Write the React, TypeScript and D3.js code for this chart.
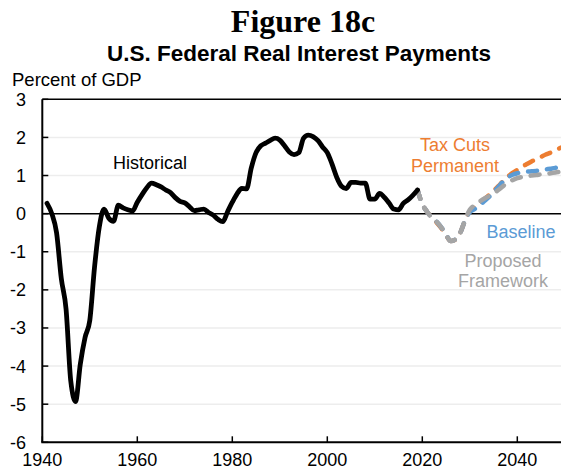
import React from "react";
import * as d3 from "d3";

const histYears: number[] = d3.range(1941, 2020);
const histValues: number[] = [
  0.27, 0.0, -0.5, -1.7, -2.5, -4.4, -4.93, -3.95, -3.25, -2.8,
  -1.4, -0.35, 0.12, -0.12, -0.2, 0.22, 0.15, 0.1, 0.07, 0.3,
  0.5, 0.68, 0.8, 0.76, 0.7, 0.62, 0.55, 0.42, 0.32, 0.28,
  0.18, 0.08, 0.1, 0.12, 0.03, -0.04, -0.15, -0.21, 0.05, 0.3,
  0.52, 0.66, 0.65, 1.2, 1.6, 1.78, 1.85, 1.92, 1.98, 1.93,
  1.78, 1.62, 1.55, 1.6, 1.98, 2.06, 2.02, 1.92, 1.75, 1.6,
  1.3, 0.95, 0.72, 0.66, 0.82, 0.82, 0.8, 0.8, 0.38, 0.38,
  0.53, 0.43, 0.28, 0.12, 0.1, 0.27, 0.36, 0.48, 0.62,
];

const projYears: number[] = d3.range(2019, 2051);
const taxCutsValues: number[] = [
  0.62, 0.25, 0.05, -0.1, -0.23, -0.38, -0.57, -0.72, -0.68, -0.5,
  -0.18, 0.06, 0.17, 0.27, 0.38, 0.48, 0.6, 0.72, 0.85, 0.97,
  1.07, 1.15, 1.23, 1.3, 1.37, 1.43, 1.49, 1.55, 1.6, 1.66,
  1.72, 1.78,
];
const baselineValues: number[] = [
  0.62, 0.25, 0.05, -0.1, -0.21, -0.36, -0.55, -0.72, -0.67, -0.5,
  -0.18, 0.04, 0.12, 0.2, 0.32, 0.43, 0.56, 0.7, 0.84, 0.95,
  1.02, 1.06, 1.08, 1.1, 1.11, 1.12, 1.14, 1.16, 1.18, 1.2,
  1.23, 1.25,
];
const frameworkValues: number[] = [
  0.62, 0.25, 0.05, -0.1, -0.21, -0.36, -0.55, -0.72, -0.67, -0.5,
  -0.17, 0.1, 0.22, 0.31, 0.39, 0.46, 0.53, 0.62, 0.72, 0.82,
  0.88, 0.93, 0.96, 0.98, 1.0, 1.01, 1.03, 1.04, 1.06, 1.08,
  1.1, 1.12,
];

const yTicks: number[] = [3, 2, 1, 0, -1, -2, -3, -4, -5, -6];
const xTicks: number[] = [1940, 1960, 1980, 2000, 2020, 2040];

const W = 561;
const H = 470;
const FONT = "'Liberation Sans', Arial, sans-serif";

export default function App() {
  const x = d3.scaleLinear().domain([1940, 2050]).range([42.3, 564.8]);
  const y = d3.scaleLinear().domain([-6, 3]).range([442.3, 99.3]);

  const line = d3
    .line<[number, number]>()
    .x((d) => x(d[0]))
    .y((d) => y(d[1]))
    .curve(d3.curveMonotoneX);

  const hist = line(histYears.map((yr, i) => [yr, histValues[i]]));
  const tax = line(projYears.map((yr, i) => [yr, taxCutsValues[i]]));
  const base = line(projYears.map((yr, i) => [yr, baselineValues[i]]));
  const frame = line(projYears.map((yr, i) => [yr, frameworkValues[i]]));

  const x0 = x(1940);
  const xEnd = W + 10;
  const dash = "9 10";

  return (
    <div style={{ position: "absolute", left: 0, top: 0 }}>
      <svg width={W} height={H} style={{ display: "block", background: "#fff" }}>
        <defs>
          <clipPath id="plot">
            <rect x={x0} y={y(3) - 5} width={W - x0} height={y(-6) - y(3) + 5} />
          </clipPath>
        </defs>
        {/* Titles */}
        <text
          x={303}
          y={32}
          textAnchor="middle"
          fontFamily="'Liberation Serif', 'Times New Roman', serif"
          fontWeight="bold"
          fontSize={32}
        >
          Figure 18c
        </text>
        <text x={299} y={61} textAnchor="middle" fontFamily={FONT} fontWeight="bold" fontSize={22.5}>
          U.S. Federal Real Interest Payments
        </text>
        <text x={12} y={86} fontFamily={FONT} fontSize={18.5}>
          Percent of GDP
        </text>

        {/* gridlines */}
        {yTicks
          .filter((t) => t !== 3 && t !== 0 && t !== -6)
          .map((t) => (
            <line key={"g" + t} x1={x0} x2={xEnd} y1={y(t)} y2={y(t)} stroke="#EDEDED" strokeWidth={1.5} />
          ))}
        {/* top border */}
        <line x1={x0} x2={xEnd} y1={y(3)} y2={y(3)} stroke="#000" strokeWidth={1.5} />
        {/* zero line */}
        <line x1={x0} x2={xEnd} y1={y(0)} y2={y(0)} stroke="#000" strokeWidth={1.5} />

        {/* y axis */}
        <line x1={x0} x2={x0} y1={y(3)} y2={y(-6)} stroke="#000" strokeWidth={2} />
        {yTicks.map((t) => (
          <g key={"yt" + t}>
            <line x1={x0} x2={x0 + 6} y1={y(t)} y2={y(t)} stroke="#000" strokeWidth={1.5} />
            <text x={26} y={y(t)} dy="0.36em" textAnchor="end" fontFamily={FONT} fontSize={18}>
              {t}
            </text>
          </g>
        ))}
        {/* x axis */}
        <line x1={x0 - 1} x2={xEnd} y1={y(-6)} y2={y(-6)} stroke="#000" strokeWidth={2} />
        {xTicks.map((t) => (
          <g key={"xt" + t}>
            <line x1={x(t)} x2={x(t)} y1={y(-6)} y2={y(-6) - 6} stroke="#000" strokeWidth={1.5} />
            <text x={x(t)} y={466} textAnchor="middle" fontFamily={FONT} fontSize={18}>
              {t}
            </text>
          </g>
        ))}

        <g clipPath="url(#plot)">
          <path d={tax || ""} fill="none" stroke="#ED7D31" strokeWidth={4.5} strokeDasharray={dash} strokeLinecap="round" />
          <path d={base || ""} fill="none" stroke="#5B9BD5" strokeWidth={4.5} strokeDasharray={dash} strokeLinecap="round" />
          <path d={frame || ""} fill="none" stroke="#A5A5A5" strokeWidth={4.5} strokeDasharray={dash} strokeLinecap="round" />
          <path d={hist || ""} fill="none" stroke="#000" strokeWidth={4.8} strokeLinejoin="round" strokeLinecap="round" />
        </g>

        {/* labels */}
        <text x={150} y={169} textAnchor="middle" fontFamily={FONT} fontSize={18}>
          Historical
        </text>
        <text textAnchor="middle" fontFamily={FONT} fontSize={18} fill="#ED7D31">
          <tspan x={455} y={151}>Tax Cuts</tspan>
          <tspan x={455} y={172}>Permanent</tspan>
        </text>
        <text x={521} y={238} textAnchor="middle" fontFamily={FONT} fontSize={18} fill="#5B9BD5">
          Baseline
        </text>
        <text textAnchor="middle" fontFamily={FONT} fontSize={18} fill="#A5A5A5">
          <tspan x={503} y={267}>Proposed</tspan>
          <tspan x={503} y={287}>Framework</tspan>
        </text>
      </svg>
    </div>
  );
}
